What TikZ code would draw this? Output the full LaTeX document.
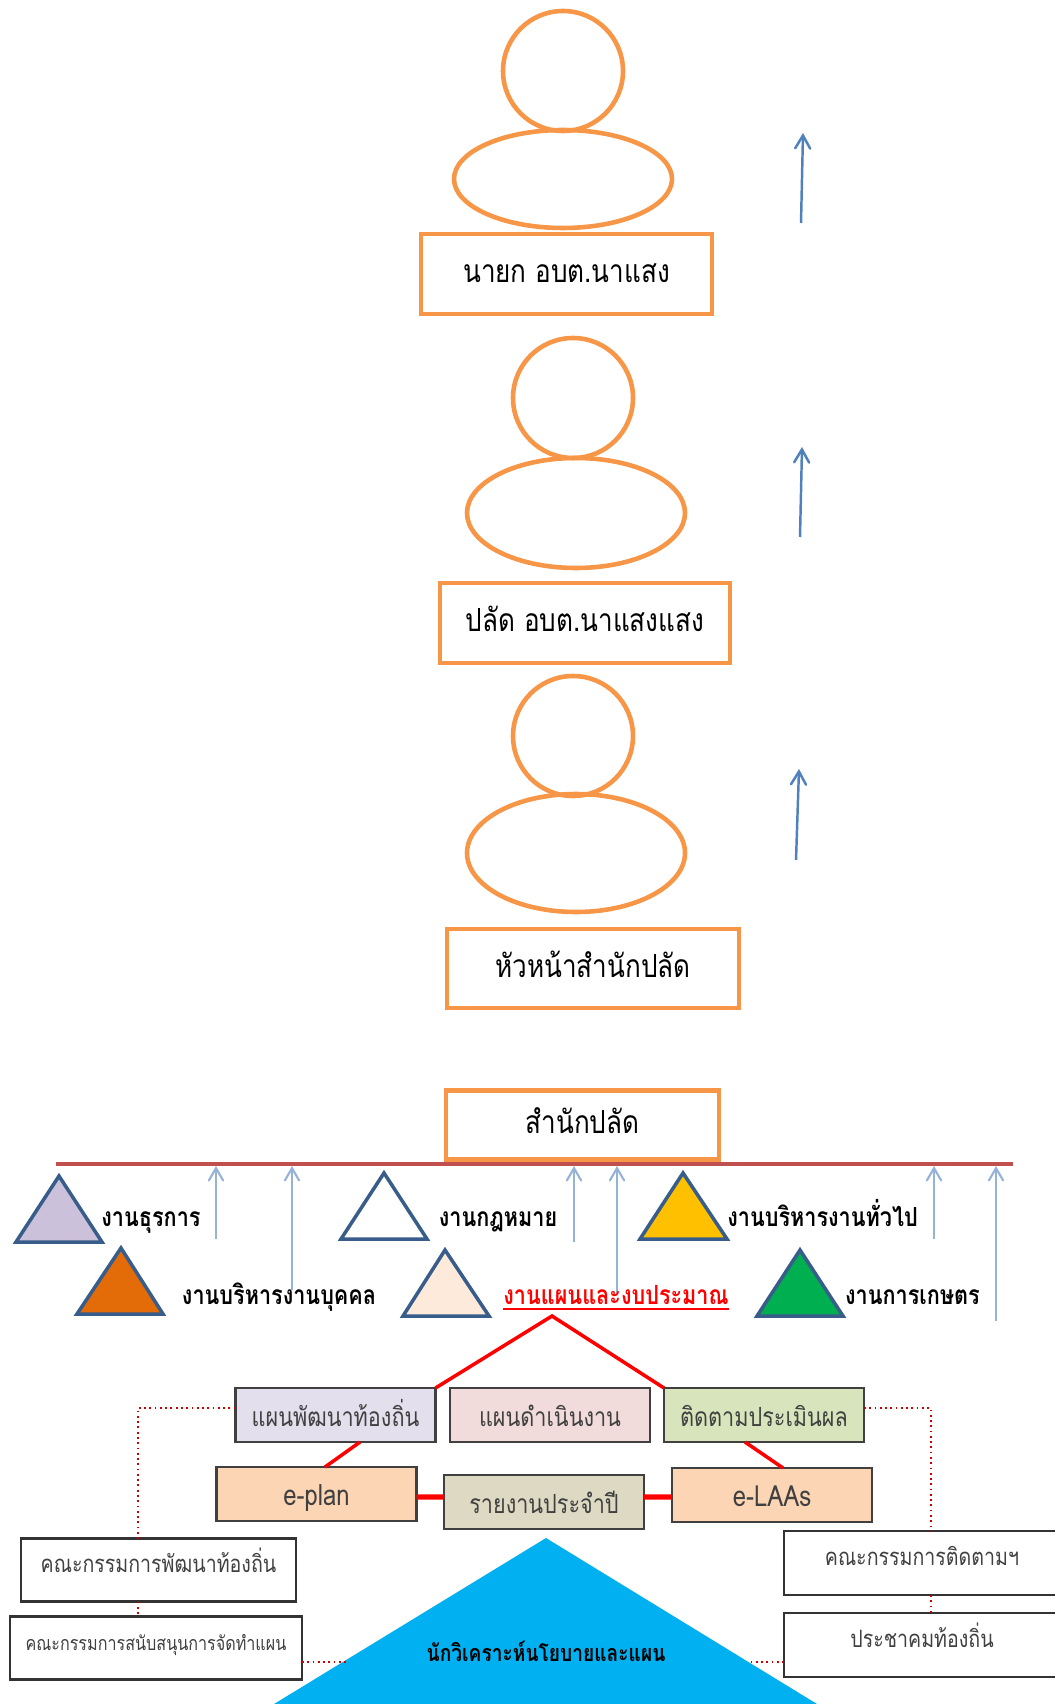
\documentclass[tikz,border=0pt]{standalone}
\usepackage{fontspec}
\newfontfamily\thaifont[Script=Thai,FakeStretch=0.82]{Loma}
\usetikzlibrary{arrows,positioning,shapes.geometric}
\definecolor{orgline}{HTML}{F79646}
\definecolor{triline}{HTML}{385D8A}
\definecolor{arrline}{HTML}{4F81BD}
\definecolor{palearr}{HTML}{95B3D7}
\definecolor{barred}{HTML}{C0504D}
\definecolor{skyblue}{HTML}{00B0F0}
\tikzset{
  headc/.style={circle,draw=orgline,line width=1.3pt,minimum size=1.2cm,inner sep=0pt,outer sep=0pt},
  bodye/.style={ellipse,draw=orgline,line width=1.3pt,minimum width=2.18cm,inner sep=0pt,outer sep=0pt},
  titlebox/.style={rectangle,draw=orgline,line width=1.4pt,inner sep=0pt,outer sep=0pt,text height=6.5pt,text depth=1.5pt,font=\thaifont\fontsize{9.05}{11}\selectfont},
  tri/.style={draw=triline,line width=1pt,line join=miter},
  worklabel/.style={inner sep=0pt,text height=5.5pt,text depth=1.5pt,font=\thaifont\bfseries\fontsize{7.5}{9}\selectfont},
  planbox/.style={rectangle,draw=black!75,line width=.6pt,minimum width=2cm,minimum height=.54cm,inner sep=0pt,outer sep=0pt,text height=7.8pt,text depth=1pt,font=\thaifont\fontsize{7.5}{9}\selectfont,text=black!75},
  combox/.style={rectangle,draw=black!80,line width=.6pt,inner sep=0pt,outer sep=0pt,text height=4.5pt,text depth=2.9pt,text=black!75},
  redlink/.style={red,line width=1pt},
  dotlink/.style={red!80!black,densely dotted,line width=.5pt}
}
\begin{document}
\begin{tikzpicture}
\useasboundingbox (0,0) rectangle (10.54,-17.04);
% people
\node[headc] (headA) at (5.63,-.71) {};
\node[bodye,minimum height=.98cm] (bodyA) at (5.63,-1.79) {};
\node[titlebox,minimum width=2.91cm,minimum height=.8cm] (mayor) at (5.665,-2.74) {นายก อบต.นาแสง};
\node[headc] (headB) at (5.73,-3.98) {};
\node[bodye,minimum height=1.1cm] (bodyB) at (5.76,-5.13) {};
\node[titlebox,minimum width=2.9cm,minimum height=.8cm] (clerk) at (5.85,-6.23) {ปลัด อบต.นาแสงแสง};
\node[headc] (headC) at (5.73,-7.36) {};
\node[bodye,minimum height=1.18cm] (bodyC) at (5.76,-8.53) {};
\node[titlebox,minimum width=2.92cm,minimum height=.79cm] (chief) at (5.93,-9.685) {หัวหน้าสำนักปลัด};
\node[titlebox,minimum width=2.73cm,minimum height=.69cm] (office) at (5.825,-11.25) {สำนักปลัด};
% rising arrows
\coordinate (upA0) at (8.01,-2.23);
\coordinate (upA1) at (8.03,-1.33);
\coordinate (upB0) at (8,-5.37);
\coordinate (upB1) at (8.02,-4.47);
\coordinate (upC0) at (7.96,-8.6);
\coordinate (upC1) at (7.99,-7.69);
\path[->,arrline,line width=.7pt,>=angle 60]
(upA0) edge (upA1)
(upB0) edge (upB1)
(upC0) edge (upC1)
;
% bar
\coordinate (barL) at (.56,-11.64);
\coordinate (barR) at (10.13,-11.64);
\draw[barred,line width=1.4pt] (barL) -- (barR);
\coordinate (riseA0) at (2.16,-12.39);
\coordinate (riseA1) at (2.16,-11.66);
\coordinate (riseB0) at (2.92,-12.9);
\coordinate (riseB1) at (2.92,-11.66);
\coordinate (riseC0) at (5.74,-12.42);
\coordinate (riseC1) at (5.74,-11.66);
\coordinate (riseD0) at (6.17,-12.93);
\coordinate (riseD1) at (6.17,-11.66);
\coordinate (riseE0) at (9.34,-12.39);
\coordinate (riseE1) at (9.34,-11.66);
\coordinate (riseF0) at (9.96,-13.21);
\coordinate (riseF1) at (9.96,-11.66);
\path[->,palearr,line width=.6pt,>=angle 60]
(riseA0) edge (riseA1)
(riseB0) edge (riseB1)
(riseC0) edge (riseC1)
(riseD0) edge (riseD1)
(riseE0) edge (riseE1)
(riseF0) edge (riseF1)
;
% work groups
\draw[tri,fill={rgb,255:red,204;green,193;blue,218}] (.16,-12.42) -- (.59,-11.76) -- (1.02,-12.42) -- cycle;
\draw[tri,fill={rgb,255:red,227;green,108;blue,9}] (.77,-13.14) -- (1.21,-12.48) -- (1.63,-13.14) -- cycle;
\draw[tri,fill=white] (3.41,-12.39) -- (3.84,-11.73) -- (4.27,-12.39) -- cycle;
\draw[tri,fill={rgb,255:red,253;green,234;blue,218}] (4.03,-13.16) -- (4.45,-12.5) -- (4.89,-13.16) -- cycle;
\draw[tri,fill={rgb,255:red,255;green,192;blue,0}] (6.4,-12.39) -- (6.83,-11.73) -- (7.27,-12.39) -- cycle;
\draw[tri,fill={rgb,255:red,0;green,176;blue,80}] (7.57,-13.16) -- (8,-12.5) -- (8.43,-13.16) -- cycle;
\node[worklabel] (wkA) at (1.51,-12.19) {งานธุรการ};
\node[worklabel] (wkB) at (2.79,-12.97) {งานบริหารงานบุคคล};
\node[worklabel] (wkC) at (4.98,-12.19) {งานกฎหมาย};
\node[worklabel,text=red] (wkD) at (6.16,-12.97) {\underline{งานแผนและงบประมาณ}};
\node[worklabel] (wkE) at (8.225,-12.19) {งานบริหารงานทั่วไป};
\node[worklabel] (wkF) at (9.125,-12.97) {งานการเกษตร};
% plans
\node[planbox,fill={rgb,255:red,228;green,223;blue,236}] (planA) at (3.355,-14.15) {แผนพัฒนาท้องถิ่น};
\node[planbox,fill={rgb,255:red,242;green,220;blue,219}] (planB) at (5.5,-14.15) {แผนดำเนินงาน};
\node[planbox,fill={rgb,255:red,216;green,228;blue,188}] (planC) at (7.64,-14.15) {ติดตามประเมินผล};
\node[planbox,fill={rgb,255:red,252;green,213;blue,181},font=\thaifont\fontsize{8.3}{10}\selectfont] (eplan) at (3.165,-14.94) {e-plan};
\node[planbox,fill={rgb,255:red,221;green,217;blue,195}] (report) at (5.44,-15.02) {รายงานประจำปี};
\node[planbox,fill={rgb,255:red,252;green,213;blue,181},font=\thaifont\fontsize{8.3}{10}\selectfont] (elaas) at (7.72,-14.95) {e-LAAs};
\coordinate (apex) at (5.52,-13.16);
\draw[redlink] (planA.north east) -- (apex) -- (planC.north west);
\path[redlink]
([xshift=.245cm]planA.south) edge ([xshift=.085cm]eplan.north)
([xshift=-.19cm]planC.south) edge ([xshift=.11cm]elaas.north)
([yshift=-.03cm]eplan.east) edge[line width=1.5pt] ([yshift=.05cm]report.west)
([yshift=.05cm]report.east) edge[line width=1.5pt] ([yshift=-.02cm]elaas.west)
;
% committees
\node[combox,minimum width=2.75cm,minimum height=.63cm,font=\thaifont\fontsize{6.8}{8}\selectfont] (comDev) at (1.585,-15.7) {คณะกรรมการพัฒนาท้องถิ่น};
\node[combox,minimum width=2.92cm,minimum height=.63cm,font=\thaifont\fontsize{5.6}{7}\selectfont] (comSup) at (1.56,-16.48) {คณะกรรมการสนับสนุนการจัดทำแผน};
\node[combox,minimum width=2.76cm,minimum height=.64cm,font=\thaifont\fontsize{6.8}{8}\selectfont] (comFol) at (9.22,-15.63) {คณะกรรมการติดตามฯ};
\node[combox,minimum width=2.76cm,minimum height=.64cm,font=\thaifont\fontsize{6.8}{8}\selectfont] (comPub) at (9.22,-16.45) {ประชาคมท้องถิ่น};
% analyst
\fill[skyblue] (2.74,-17.04) -- (5.46,-15.38) -- (8.17,-17.04) -- cycle;
\node[inner sep=0pt,text height=5.5pt,text depth=1.5pt,font=\thaifont\bfseries\fontsize{6.65}{8}\selectfont] (analyst) at (5.46,-16.54) {นักวิเคราะห์นโยบายและแผน};
\coordinate (triL) at (3.46,-16.62);
\coordinate (triR) at (7.49,-16.62);
\draw[dotlink] ([yshift=.07cm]planA.west) -| ([xshift=-.205cm]comDev.north);
\draw[dotlink] ([yshift=.07cm]planC.east) -| ([xshift=.09cm]comFol.north);
\draw[dotlink] ([xshift=-.205cm]comDev.south) -- ([xshift=-.18cm]comSup.north);
\draw[dotlink] ([xshift=.09cm]comFol.south) -- ([xshift=.09cm]comPub.north);
\draw[dotlink] ([yshift=-.14cm]comSup.east) -- (triL);
\draw[dotlink] ([yshift=-.17cm]comPub.west) -- (triR);
\end{tikzpicture}
\end{document}
